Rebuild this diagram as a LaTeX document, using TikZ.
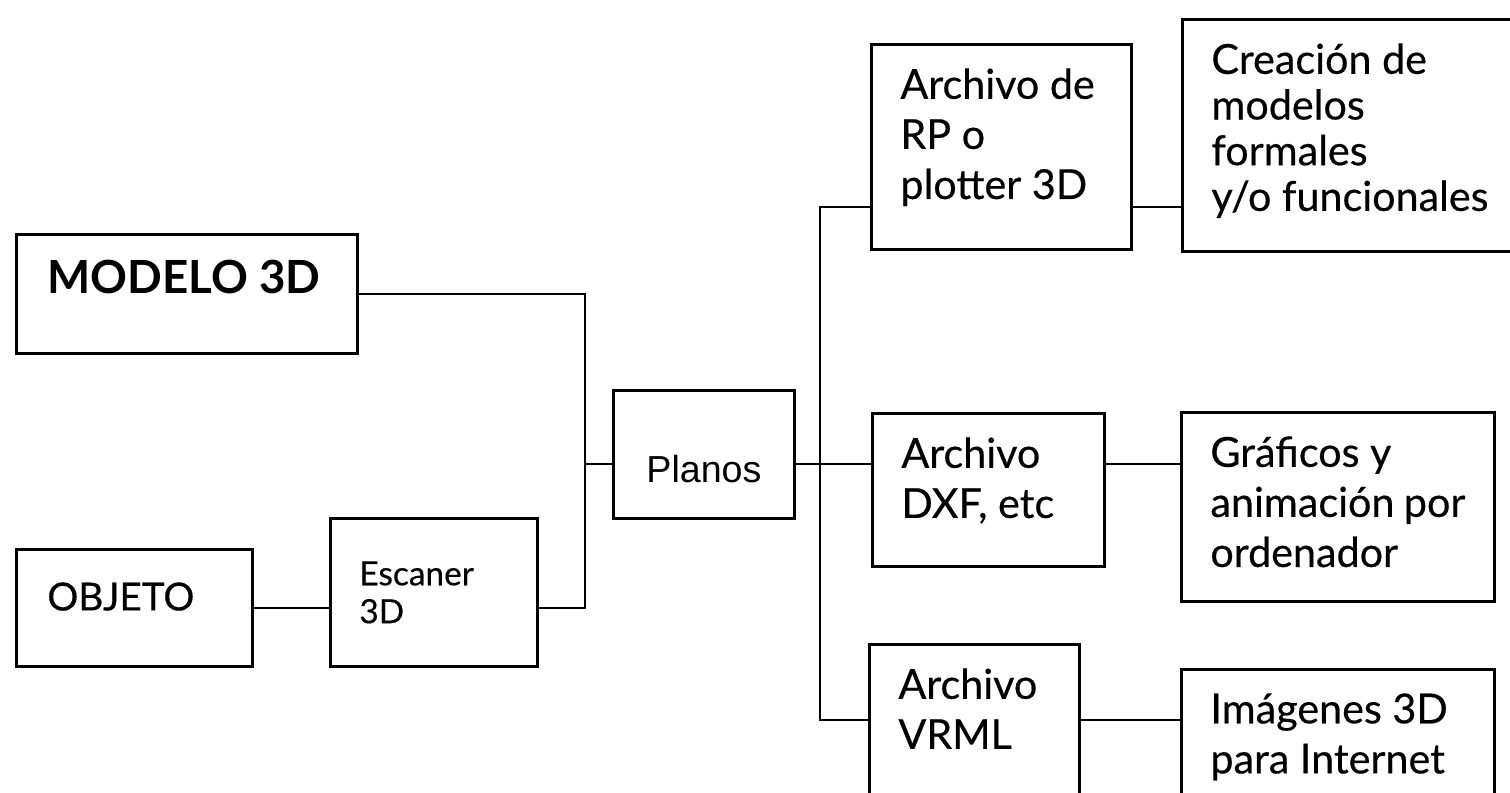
\documentclass[tikz,border=0pt]{standalone}
\usepackage{fontspec}
\setmainfont{Lato}[UprightFeatures={FakeBold=0.4}]
\newfontfamily\planosfont{Liberation Sans}
\newcommand{\caja}[3]{\parbox[c][#2][t]{#1}{\raggedright #3}}

\begin{document}
\begin{tikzpicture}[bloque/.style={draw, line width=1.6pt, anchor=north west, inner xsep=.58cm, inner ysep=.48cm, font=\fontsize{23.5}{28.5}\selectfont}, linea/.style={line width=1.5pt}]
\useasboundingbox (0,0) rectangle (30.2,15.84);
\clip (0,0) rectangle (30.2,15.84);
% entradas
\node[bloque, inner xsep=.62cm, inner ysep=.52cm, font=\bfseries\fontsize{26}{30}\selectfont] (modelo) at (.30,11.18) {\caja{5.58cm}{1.34cm}{MODELO 3D}};
\node[bloque, inner xsep=.62cm, inner ysep=.66cm, font=\fontsize{22}{26}\selectfont] (objeto) at (.30,4.88) {\caja{3.48cm}{1.02cm}{OBJETO}};
\node[bloque, inner ysep=0pt, minimum height=2.96cm, text width=2.98cm, align=left, font=\fontsize{19}{21.6}\selectfont] (escaner) at (6.58,5.50) {Escaner\\3D};
\node[bloque, inner sep=0pt, minimum width=3.62cm, minimum height=2.56cm, text height=32pt, text depth=0pt, font=\planosfont\fontsize{21.4}{25}\selectfont] (planos) at (12.24,8.06) {Planos};
% archivos
\node[bloque] (rp) at (17.40,14.98) {\caja{4.04cm}{3.14cm}{Archivo de\\RP o\\plotter 3D}};
\node[bloque] (dxf) at (17.42,7.60) {\caja{3.48cm}{2.10cm}{Archivo\\DXF, etc}};
\node[bloque] (vrml) at (17.36,2.98) {\caja{3.04cm}{2.64cm}{Archivo\\VRML}};
% usos
\node[bloque, font=\fontsize{23.5}{26}\selectfont] (crea) at (23.62,15.48) {\caja{5.84cm}{3.68cm}{Creación de\\modelos\\formales\\y/o funcionales}};
\node[bloque] (graf) at (23.60,7.62) {\caja{5.10cm}{2.82cm}{Gráficos y\\animación por\\ordenador}};
\node[bloque] (imag) at (23.60,2.48) {\caja{5.10cm}{2.24cm}{Imágenes 3D\\para Internet}};
% conexiones
\coordinate (jM) at (11.70,6.56);
\coordinate (busT) at (16.40,11.70); \coordinate (busB) at (16.40,1.44);
\draw[linea] (objeto.east) -- (objeto.east -| escaner.west);
\draw[linea] (modelo.east) -| (jM |- objeto.east) -- (escaner.east |- objeto.east);
\draw[linea] (jM) -- (jM -| planos.west);
\draw[linea] (planos.east |- jM) -- (jM -| dxf.west);
\draw[linea] (busT -| rp.west) -- (busT) -- (busB) -- (busB -| vrml.west);
\draw[linea] (rp.east |- busT) -- (crea.west |- busT);
\draw[linea] (dxf.east |- jM) -- (graf.west |- jM);
\draw[linea] (vrml.east |- busB) -- (imag.west |- busB);
\end{tikzpicture}
\end{document}
